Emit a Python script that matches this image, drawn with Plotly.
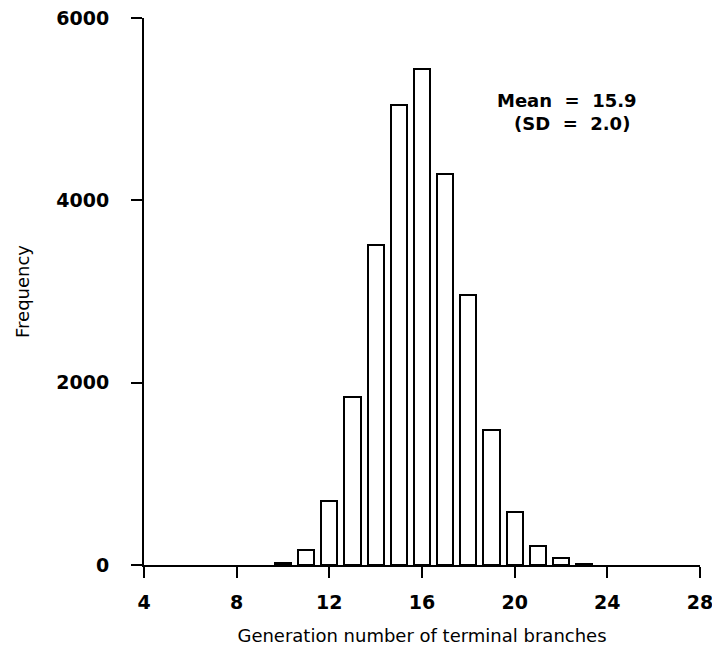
import plotly.graph_objects as go

generation = [10, 11, 12, 13, 14, 15, 16, 17, 18, 19, 20, 21, 22, 23]
frequency = [20, 165, 702, 1843, 3510, 5045, 5440, 4290, 2960, 1481, 581, 208, 77, 12]

x_ticks = [4, 8, 12, 16, 20, 24, 28]
y_ticks = [0, 2000, 4000, 6000]

fig = go.Figure()
fig.add_trace(go.Bar(
    x=generation, y=frequency, width=0.7,
    marker=dict(color="white", line=dict(color="black", width=2)),
    showlegend=False, hoverinfo="skip",
))

tick_font = dict(family="DejaVu Sans", size=19, color="black", weight="bold")
title_font = dict(family="DejaVu Sans", size=18, color="black")

fig.update_layout(
    width=712, height=647,
    margin=dict(l=144, r=12, t=18, b=82),
    paper_bgcolor="white", plot_bgcolor="white",
    bargap=0,
    xaxis=dict(
        range=[4, 28], tickvals=x_ticks, ticktext=[str(v) for v in x_ticks],
        showline=True, linecolor="black", linewidth=2, showgrid=False, zeroline=False,
        ticks="outside", ticklen=11, tickwidth=2, tickcolor="black",
        tickfont=tick_font, ticklabelstandoff=8, automargin=False,
        ticklabeloverflow="allow",
        title=dict(text="Generation number of terminal branches", font=title_font, standoff=18),
    ),
    yaxis=dict(
        range=[0, 6000], tickvals=y_ticks, ticktext=[str(v) for v in y_ticks],
        showline=True, linecolor="black", linewidth=2, showgrid=False, zeroline=False,
        ticks="outside", ticklen=11, tickwidth=2, tickcolor="black",
        tickfont=tick_font, ticklabelstandoff=18, automargin=False,
        ticklabeloverflow="allow",
        title=dict(text="Frequency", font=title_font, standoff=22),
    ),
)

fig.add_annotation(
    x=0.89, y=0.872, xref="paper", yref="paper", xanchor="right", yanchor="top",
    showarrow=False, align="right",
    text="Mean\u00a0 =\u00a0 15.9<br>(SD\u00a0 =\u00a0 2.0)\u00a0",
    font=dict(family="DejaVu Sans", size=18, color="black", weight="bold"),
)

# remove the default 8px page margin so the figure fills the window exactly
fig.write_html("out.html", config={"displayModeBar": False},
               post_script="document.body.style.margin='0px';")
